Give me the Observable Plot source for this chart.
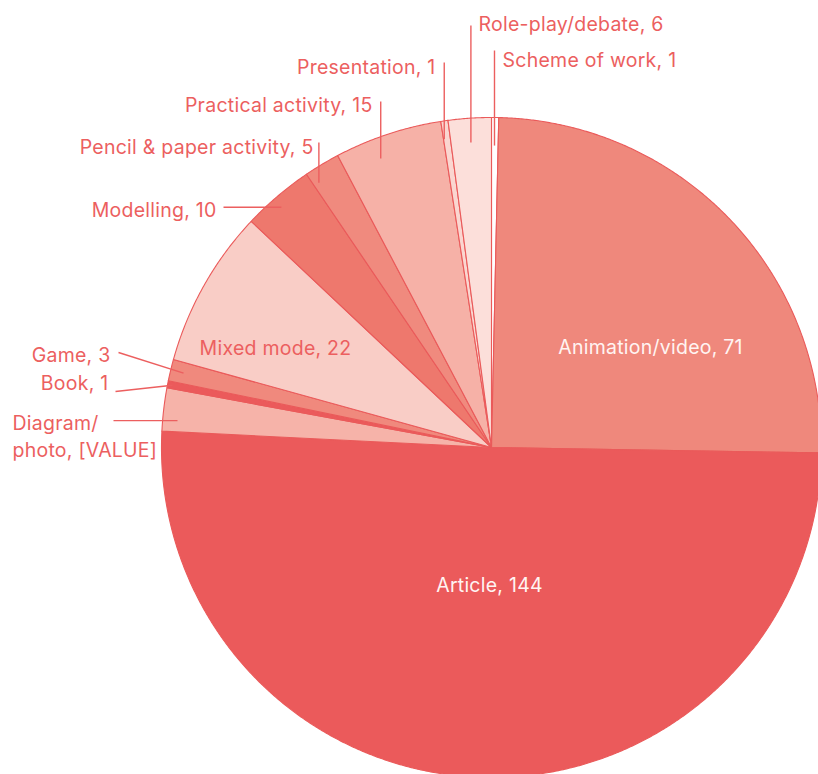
<!DOCTYPE html>
<html>
<head>
<meta charset="utf-8">
<script src="https://cdn.jsdelivr.net/npm/d3@7"></script>
<script src="https://cdn.jsdelivr.net/npm/@observablehq/plot@0.6"></script>
<style>
  html, body { margin: 0; padding: 0; background: #fff; }
  #chart svg { display: block; overflow: hidden; }
  #chart svg text { letter-spacing: 0.25px; }
</style>
</head>
<body>
<div id="chart"></div>
<script>
// ---- data (clockwise from 12 o'clock) ----
const categories = ["Scheme of work", "Animation/video", "Article", "Diagram/photo", "Book", "Game",
  "Mixed mode", "Modelling", "Pencil & paper activity", "Practical activity", "Presentation", "Role-play/debate"];
const counts = [1, 71, 144, 6, 1, 3, 22, 10, 5, 15, 1, 6];
const labelTexts = ["Scheme of work, 1", "Animation/video, 71", "Article, 144", "Diagram/\nphoto, [VALUE]",
  "Book, 1", "Game, 3", "Mixed mode, 22", "Modelling, 10", "Pencil & paper activity, 5",
  "Practical activity, 15", "Presentation, 1", "Role-play/debate, 6"];
const sliceColors = ["#ffffff", "#ef887c", "#eb5a5b", "#f6b3a9", "#eb5a5b", "#f0897d",
  "#f9cdc6", "#ee786d", "#f08a7e", "#f6b1a7", "#fad6d0", "#fcdfda"];

// ---- layout (units = px, origin at pie centre, y up) ----
const R = 330;
const labelLayout = [
  {name: "Scheme of work", x: 11, y: 389, anchor: "start", t: 0.45, r: 0.915, ex: null, ey: 397},
  {name: "Animation/video", x: 159, y: 102, anchor: "middle", inside: true},
  {name: "Article", x: -2, y: -136, anchor: "middle", inside: true},
  {name: "Diagram/photo", x: -479, y: 12.5, anchor: "start", t: 0.27, r: 0.955, ex: -378, ey: null},
  {name: "Book", x: -383, y: 66, anchor: "end", t: 0.5, r: 0.985, ex: -376, ey: 56},
  {name: "Game", x: -381, y: 94, anchor: "end", t: 0.5, r: 0.96, ex: -373, ey: 95},
  {name: "Mixed mode", x: -216, y: 101, anchor: "middle"},
  {name: "Modelling", x: -275, y: 239, anchor: "end", t: 0.44, r: 0.967, ex: -268, ey: null},
  {name: "Pencil & paper activity", x: -178, y: 302, anchor: "end", t: 0.16, r: 0.958, ex: null, ey: 305},
  {name: "Practical activity", x: -119, y: 344, anchor: "end", t: 0.36, r: 0.938, ex: null, ey: 346},
  {name: "Presentation", x: -56, y: 382, anchor: "end", t: 0.1, r: 0.945, ex: null, ey: 385},
  {name: "Role-play/debate", x: -13, y: 425, anchor: "start", t: 0.49, r: 0.926, ex: null, ey: 422}
];

const data = categories.map((name, i) => ({name, value: counts[i], label: labelTexts[i]}));
const arcs = d3.pie().sort(null).value(d => d.value)(data);

// slice outlines
const slicePts = [];
for (const a of arcs) {
  const n = Math.max(2, Math.ceil((a.endAngle - a.startAngle) / 0.005));
  slicePts.push({name: a.data.name, x: 0, y: 0});
  for (let k = 0; k <= n; k++) {
    const ang = a.startAngle + (a.endAngle - a.startAngle) * k / n;
    slicePts.push({name: a.data.name, x: R * Math.sin(ang), y: R * Math.cos(ang)});
  }
}

// labels & leader lines
const arcByName = new Map(arcs.map(a => [a.data.name, a]));
const labels = labelLayout.map(l => ({...l, text: arcByName.get(l.name).data.label}));
const leaders = labelLayout.filter(l => l.t != null).map(l => {
  const a = arcByName.get(l.name);
  const ang = a.startAngle + (a.endAngle - a.startAngle) * l.t;
  const x1 = R * l.r * Math.sin(ang), y1 = R * l.r * Math.cos(ang);
  return {x1, y1, x2: l.ex == null ? x1 : l.ex, y2: l.ey == null ? y1 : l.ey};
});

const textRed = "#ec5f5f";
const textMark = (anchor) => Plot.text(labels.filter(d => d.anchor === anchor), {
  x: "x", y: "y", text: "text", textAnchor: anchor,
  fill: d => d.inside ? "#fff4f2" : textRed, fontSize: 19.5, lineHeight: 1.4
});

const chart = Plot.plot({
  width: 818,
  height: 774,
  margin: 0,
  x: {domain: [-491, 327], axis: null},
  y: {domain: [-327, 447], axis: null},
  color: {domain: categories, range: sliceColors},
  style: {fontFamily: "Inter, 'Noto Sans', sans-serif", background: "#fff"},
  marks: [
    Plot.line(slicePts, {x: "x", y: "y", z: "name", fill: "name", stroke: "#ea5a5a",
      strokeWidth: 1.1, curve: "linear-closed", clip: true}),
    Plot.link(leaders, {x1: "x1", y1: "y1", x2: "x2", y2: "y2", stroke: "#ec5f5f", strokeWidth: 1.4}),
    textMark("start"),
    textMark("middle"),
    textMark("end")
  ]
});
document.getElementById("chart").appendChild(chart);
</script>
</body>
</html>
